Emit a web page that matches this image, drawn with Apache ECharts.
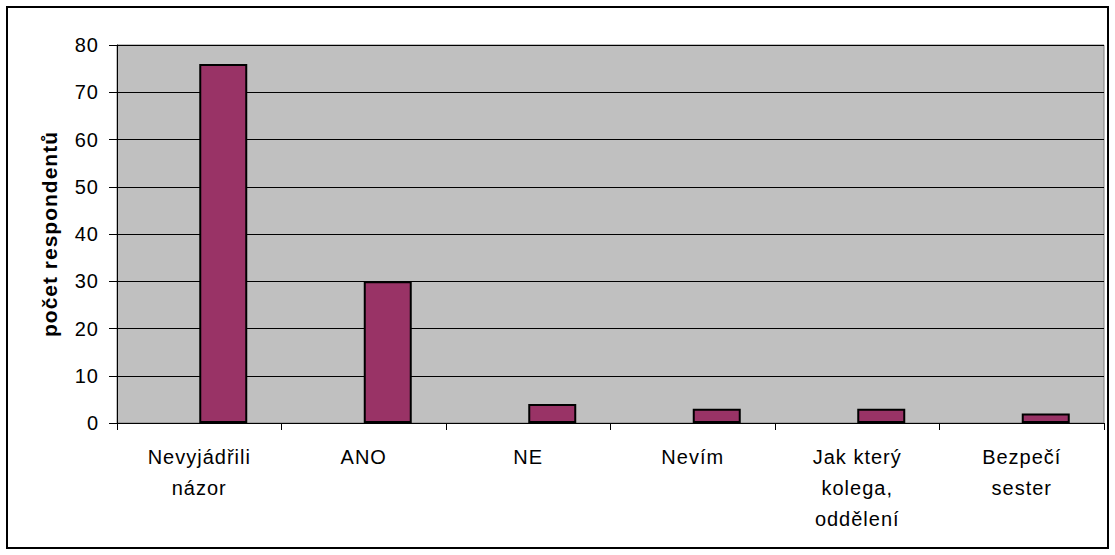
<!DOCTYPE html>
<html>
<head>
<meta charset="utf-8">
<script src="https://cdn.jsdelivr.net/npm/echarts@6/dist/echarts.min.js"></script>
<style>
  html, body { margin: 0; padding: 0; background: #fff; }
  #chart { width: 1115px; height: 555px; }
  /* slightly open tracking for all chart text */
  #chart svg text { letter-spacing: 1px; }
</style>
</head>
<body>
<div id="chart"></div>
<script>
// Survey answers and respondent counts
const categories = ['Nevyjádřili\nnázor', 'ANO', 'NE', 'Nevím', 'Jak který\nkolega,\noddělení', 'Bezpečí\nsester'];
const counts = [76, 30, 4, 3, 3, 2];
const emptySlot = [null, null, null, null, null, null];
const yTicks = { min: 0, max: 80, step: 10 };
const yTitle = 'počet respondentů';

const font = '"Liberation Sans", Arial, sans-serif';
const chart = echarts.init(document.getElementById('chart'), null, { renderer: 'svg' });

chart.setOption({
  backgroundColor: '#ffffff',
  animation: false,
  textStyle: { fontFamily: font },
  graphic: [{
    type: 'rect',
    shape: { x: 7, y: 7, width: 1101, height: 541 },
    style: { fill: 'none', stroke: '#000', lineWidth: 2 },
    silent: true
  }],
  grid: {
    left: 117, top: 45, right: 11, bottom: 132,
    show: true,
    backgroundColor: '#C0C0C0',
    borderColor: '#808080',
    borderWidth: 1
  },
  xAxis: {
    type: 'category',
    data: categories,
    axisLine: { show: true, lineStyle: { color: '#000', width: 1 } },
    axisTick: { show: true, length: 7, lineStyle: { color: '#000' } },
    axisLabel: {
      interval: 0, margin: 18, color: '#000', fontSize: 20,
      lineHeight: 31, fontFamily: font
    },
    splitLine: { show: false }
  },
  yAxis: {
    type: 'value',
    min: yTicks.min, max: yTicks.max, interval: yTicks.step,
    name: yTitle,
    nameLocation: 'middle',
    nameRotate: 90,
    nameGap: 57,
    nameTextStyle: { color: '#000', fontSize: 21, fontWeight: 'bold', fontFamily: font },
    axisLine: { show: true, lineStyle: { color: '#000', width: 1 } },
    axisTick: { show: true, length: 8, lineStyle: { color: '#000' } },
    axisLabel: { margin: 18, color: '#000', fontSize: 20, fontFamily: font },
    splitLine: { show: true, lineStyle: { color: '#000', width: 1 } }
  },
  series: [
    {
      type: 'bar',
      data: emptySlot,
      barWidth: 48,
      barGap: '0%',
      itemStyle: { color: '#993366' }
    },
    {
      type: 'bar',
      data: counts,
      barWidth: 48,
      barGap: '0%',
      itemStyle: { color: '#993366', borderColor: '#000', borderWidth: 2 }
    }
  ]
});
</script>
</body>
</html>
